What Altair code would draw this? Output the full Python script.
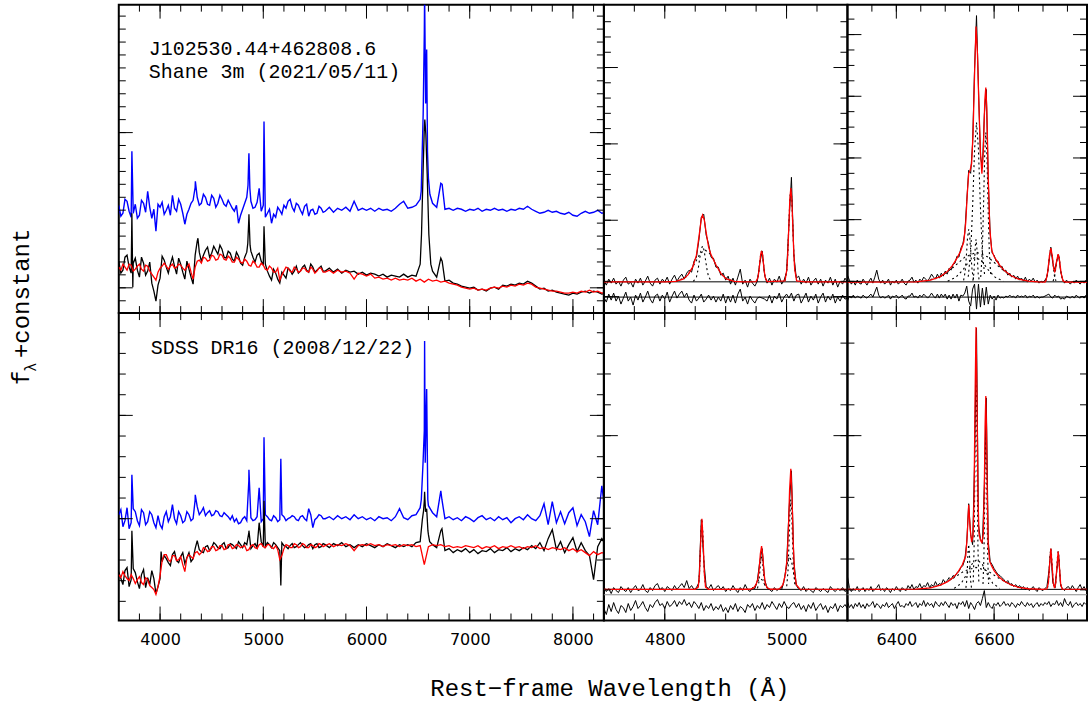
import altair as alt
import pandas as pd

# ====================== DATA ======================
# Left panels: flux every 40 A from 3600 A, extra samples at 3620..5580 (noisy blue end),
# plus emission / absorption line points (lambda, flux)
L_START, L_STEP = 3600, 40
MID_L_START = 3620

TL_BLUE = [
    10.8, 10.0, 11.2, 9.6, 10.9, 9.8, 11.0, 12.2, 9.5, 8.2,
    10.6, 9.9, 10.8, 11.8, 10.2, 10.9, 8.9, 10.4, 11.3, 11.6,
    11.0, 11.6, 10.8, 11.5, 11.0, 11.4, 10.7, 10.9, 10.2, 9.0,
    10.4, 11.6, 11.2, 10.6, 12.5, 10.8, 10.0, 9.0, 9.6, 10.3,
    10.8, 11.2, 10.6, 11.0, 10.3, 10.7, 9.7, 10.4, 10.0, 10.5,
    10.2, 10.6, 10.1, 10.5, 10.3, 10.6, 10.2, 11.2, 10.3, 10.5,
    10.3, 10.5, 10.2, 10.5, 10.3, 10.4, 10.2, 10.5, 10.9, 11.2,
    10.5, 10.6, 10.8, 11.4, 28.0, 13.5, 11.0, 10.6, 13.0, 10.4,
    10.5, 10.3, 10.5, 10.4, 10.2, 10.4, 10.3, 10.5, 10.2, 10.4,
    10.3, 10.5, 10.3, 10.4, 10.2, 10.4, 10.3, 10.5, 10.4, 10.7,
    10.4, 10.2, 10.0, 10.1, 10.3, 10.1, 10.2, 10.0, 9.9, 10.1,
    9.8, 9.7, 10.0, 10.2, 10.0, 10.1, 10.3, 10.0, 10.1,
]
TL_BLUE_MID = [
    9.7, 11.4, 10.2, 10.0, 9.5, 11.3, 10.1, 10.6, 10.4, 10.9,
    11.1, 10.3, 9.8, 10.5, 11.4, 10.0, 9.9, 11.0, 12.6, 10.8,
    11.9, 10.9, 11.8, 10.6, 11.8, 10.9, 11.3, 10.5, 10.8, 9.8,
    11.0, 15.8, 10.5, 11.1, 10.2, 9.6, 10.4, 9.9, 10.6, 9.9,
    10.5, 11.4, 10.2, 10.8, 9.9, 10.9, 10.3, 9.9, 10.7, 10.1,
]
TL_BLUE_PEAKS = [(3727, 16.2), (4342, 13.2), (4852, 12.8), (4861, 16.0), (4870, 12.5),
                 (5007, 19.2), (6530, 12.2), (6549, 19.9), (6563, 32.0), (6573, 21.0),
                 (6583, 26.4), (6591, 16.2), (6614, 11.9), (6733, 12.9)]

TL_BLACK = [
    5.2, 4.3, 5.8, 4.0, 5.5, 3.6, 5.0, 4.2, 3.0, 1.2,
    3.5, 5.3, 4.0, 5.6, 3.9, 4.9, 3.4, 4.4, 2.9, 7.2,
    5.2, 6.3, 5.6, 6.7, 5.9, 6.4, 5.5, 6.0, 5.2, 5.7,
    4.8, 6.1, 6.2, 5.1, 6.0, 4.8, 4.2, 3.3, 4.0, 3.0,
    3.8, 4.5, 3.9, 4.7, 4.2, 4.8, 4.1, 4.6, 4.3, 4.7,
    4.2, 4.5, 4.1, 4.4, 4.0, 4.3, 4.1, 4.2, 3.9, 4.1,
    3.8, 4.0, 3.9, 3.7, 3.9, 3.6, 3.8, 3.7, 3.6, 3.9,
    3.6, 3.8, 3.7, 4.9, 18.5, 9.4, 4.2, 3.6, 5.5, 3.2,
    3.3, 3.0, 2.9, 2.7, 2.6, 2.5, 2.6, 2.3, 2.4, 2.2,
    2.5, 2.6, 2.4, 2.8, 2.7, 2.9, 2.8, 3.0, 2.9, 3.2,
    3.0, 2.7, 2.4, 2.5, 2.2, 2.3, 2.1, 2.0, 1.9, 1.8,
    2.0, 1.9, 2.1, 2.2, 2.0, 2.2, 2.1, 1.9, 2.0,
]
TL_BLACK_MID = [
    4.0, 5.6, 4.6, 5.0, 4.3, 5.6, 3.8, 5.1, 2.2, 2.8,
    5.7, 4.6, 4.9, 4.7, 5.5, 4.1, 5.2, 3.6, 5.8, 6.1,
    5.8, 6.6, 6.0, 6.3, 6.8, 5.6, 6.2, 5.4, 6.1, 5.0,
    5.6, 9.5, 5.6, 5.8, 5.2, 4.9, 3.7, 4.4, 3.4, 4.1,
    3.5, 4.3, 4.2, 4.0, 4.6, 4.3, 4.9, 4.1, 4.5, 4.2,
]
TL_BLACK_PEAKS = [(3727, 10.0), (3736, 2.6), (4367, 7.5), (4850, 7.0), (4861, 9.9),
                  (4872, 6.8), (5007, 8.7), (6533, 7.9), (6549, 14.5), (6565, 19.4),
                  (6575, 17.9), (6588, 13.9), (6604, 7.9), (6623, 4.9), (6733, 5.2)]

TL_RED = [
    4.6, 4.9, 4.3, 4.8, 4.4, 4.9, 4.2, 4.7, 3.9, 3.3,
    4.5, 5.0, 4.4, 4.9, 4.6, 4.8, 4.3, 4.9, 3.4, 5.2,
    5.0, 5.5, 5.3, 5.7, 5.4, 5.8, 5.3, 5.5, 5.1, 5.4,
    5.0, 5.2, 4.7, 5.0, 4.6, 4.8, 4.3, 4.5, 4.1, 3.3,
    4.2, 4.5, 4.1, 4.4, 4.2, 4.5, 4.1, 4.4, 4.2, 4.5,
    4.1, 4.3, 4.0, 4.3, 4.1, 4.2, 4.0, 3.4, 4.0, 3.9,
    3.7, 3.9, 3.5, 3.6, 3.4, 3.5, 3.3, 3.5, 3.3, 3.4,
    3.3, 3.5, 3.2, 3.4, 3.1, 3.4, 3.2, 3.3, 3.1, 3.2,
    3.0, 2.9, 2.8, 2.6, 2.5, 2.4, 2.5, 2.3, 2.4, 2.3,
    2.5, 2.6, 2.5, 2.7, 2.6, 2.8, 2.7, 2.9, 2.8, 3.0,
    2.9, 2.6, 2.5, 2.4, 2.3, 2.2, 2.2, 2.1, 2.0, 2.0,
    2.1, 2.0, 2.2, 2.1, 2.3, 2.1, 2.2, 2.0, 2.1,
]
TL_RED_MID = [
    4.3, 4.6, 4.9, 4.2, 4.7, 4.4, 4.8, 4.2, 3.6, 4.1,
    4.7, 4.7, 4.7, 4.5, 4.9, 4.5, 4.6, 4.1, 4.6, 5.3,
    5.6, 5.2, 5.8, 5.3, 5.9, 5.4, 5.7, 5.1, 5.6, 5.1,
    5.4, 4.8, 5.2, 4.6, 5.0, 4.4, 4.7, 4.1, 4.5, 3.8,
    4.6, 4.2, 4.6, 4.1, 4.5, 4.2, 4.6, 4.0, 4.5, 4.1,
]

BL_BLUE = [
    10.6, 9.4, 11.3, 9.8, 10.9, 9.5, 10.8, 9.9, 10.6, 9.3,
    9.6, 10.4, 9.9, 11.6, 9.7, 10.5, 10.0, 10.6, 10.2, 11.4,
    10.9, 10.5, 11.0, 10.6, 10.9, 10.4, 10.6, 10.1, 9.9, 9.7,
    10.2, 10.0, 10.3, 10.1, 13.3, 10.2, 10.4, 10.0, 10.3, 10.1,
    10.4, 10.2, 10.5, 10.1, 10.4, 10.2, 11.2, 9.3, 10.3, 10.5,
    10.2, 10.4, 10.1, 10.5, 10.2, 10.4, 10.1, 10.6, 10.2, 10.4,
    10.1, 10.3, 10.0, 10.4, 10.2, 10.3, 10.0, 10.4, 11.2, 10.3,
    10.1, 10.5, 10.6, 11.3, 19.0, 11.5, 10.8, 10.4, 13.0, 10.2,
    10.4, 10.1, 10.3, 10.0, 10.4, 10.2, 9.9, 10.3, 10.5, 10.1,
    10.3, 10.0, 10.4, 10.1, 10.3, 9.8, 10.2, 10.4, 10.1, 10.6,
    10.2, 10.0, 10.5, 11.7, 9.6, 11.9, 9.8, 10.9, 9.7, 10.8,
    11.3, 9.5, 10.6, 9.9, 8.4, 11.0, 9.6, 13.5, 10.2,
]
BL_BLUE_MID = [
    11.1, 10.0, 9.2, 11.2, 10.0, 11.1, 9.6, 10.9, 9.8, 10.5,
    9.2, 10.9, 10.4, 10.2, 10.9, 9.8, 10.9, 10.0, 12.1, 10.6,
    11.3, 10.8, 10.5, 11.0, 10.5, 10.8, 10.4, 10.5, 10.2, 9.8,
    10.4, 14.0, 10.0, 10.4, 9.9, 10.6, 10.1, 10.5, 9.9, 10.6,
    10.0, 10.3, 10.4, 10.0, 10.5, 10.0, 10.6, 10.1, 10.6, 10.2,
]
BL_BLUE_PEAKS = [(3727, 14.6), (4341, 12.6), (4861, 15.1), (5007, 18.35), (5170, 16.2),
                 (6531, 12.1), (6547, 15.6), (6563, 28.0), (6569, 15.8), (6583, 23.2),
                 (6594, 12.1), (6731, 12.1)]

BL_BLACK = [
    4.9, 3.6, 5.3, 4.1, 4.8, 3.2, 5.1, 4.3, 5.0, 2.7,
    4.2, 6.5, 5.8, 6.6, 6.0, 6.4, 5.7, 6.8, 6.2, 8.0,
    6.9, 7.4, 7.0, 7.8, 7.3, 7.6, 7.2, 7.7, 7.4, 7.9,
    7.3, 7.6, 7.2, 7.7, 9.8, 7.4, 7.8, 7.3, 7.6, 7.0,
    7.5, 7.2, 7.7, 7.4, 7.8, 7.3, 7.6, 7.2, 7.7, 7.4,
    7.6, 7.3, 7.7, 7.5, 7.8, 7.4, 7.6, 7.3, 7.6, 7.4,
    7.7, 7.5, 7.3, 7.6, 7.4, 7.7, 7.5, 7.3, 7.6, 7.4,
    7.6, 7.4, 7.8, 7.9, 12.0, 8.6, 7.6, 7.3, 9.0, 7.0,
    7.2, 6.8, 7.1, 6.9, 7.2, 6.8, 7.1, 6.7, 7.0, 6.9,
    7.2, 6.8, 7.1, 7.0, 7.3, 6.9, 7.2, 7.0, 7.3, 7.1,
    7.5, 7.2, 7.8, 7.0, 8.2, 9.1, 7.1, 7.9, 6.8, 7.6,
    8.3, 6.9, 7.8, 7.0, 6.5, 4.1, 7.4, 8.2, 7.5,
]
BL_BLACK_MID = [
    4.2, 5.0, 3.4, 5.2, 3.9, 4.6, 3.3, 3.6, 4.2, 3.4,
    5.9, 6.2, 5.5, 6.9, 5.8, 6.8, 6.3, 5.9, 7.2, 7.1,
    6.8, 7.5, 7.3, 7.6, 7.2, 7.8, 7.3, 7.6, 7.2, 7.6,
    7.8, 8.8, 7.5, 7.3, 7.9, 7.4, 7.6, 7.8, 7.3, 7.8,
    7.4, 7.5, 7.3, 7.6, 7.5, 7.4, 7.7, 7.6, 7.3, 7.7,
]
BL_BLACK_PEAKS = [(3727, 9.0), (4010, 6.9), (4861, 9.0), (5007, 12.0), (5170, 3.5),
                  (6541, 10.1), (6553, 11.0), (6563, 12.9), (6572, 10.9), (6583, 11.2),
                  (6595, 9.0), (6612, 7.9), (6731, 9.2)]

BL_RED = [
    4.6, 4.9, 4.2, 4.6, 3.7, 4.4, 3.6, 4.1, 3.3, 2.6,
    4.5, 6.6, 6.1, 6.5, 6.0, 6.4, 4.9, 6.6, 6.2, 6.9,
    6.8, 7.2, 7.0, 7.4, 7.1, 7.5, 7.2, 7.6, 7.3, 7.5,
    7.4, 7.0, 7.5, 7.3, 7.6, 7.4, 7.6, 7.3, 7.5, 6.1,
    7.2, 7.5, 7.3, 7.6, 7.4, 7.6, 7.3, 7.5, 7.4, 7.6,
    7.5, 7.7, 7.4, 7.6, 7.5, 7.7, 7.5, 7.0, 7.5, 7.6,
    7.5, 7.7, 7.5, 7.6, 7.4, 7.6, 7.5, 7.6, 7.4, 7.6,
    7.5, 7.6, 7.4, 7.5, 5.6, 7.4, 7.6, 7.5, 7.6, 7.4,
    7.5, 7.3, 7.4, 7.3, 7.5, 7.4, 7.3, 7.5, 7.2, 7.4,
    7.3, 7.5, 7.2, 7.4, 7.3, 7.5, 7.3, 7.4, 7.2, 7.4,
    7.3, 7.5, 7.2, 7.3, 7.1, 7.3, 7.2, 7.1, 7.3, 7.0,
    7.2, 6.9, 7.1, 6.8, 6.5, 6.9, 6.6, 6.8, 6.7,
]
BL_RED_MID = [
    4.3, 4.5, 4.0, 4.2, 4.1, 3.8, 4.3, 3.5, 3.1, 3.4,
    6.0, 6.6, 5.9, 6.5, 6.1, 5.6, 6.3, 6.4, 6.8, 6.6,
    7.3, 6.9, 7.4, 7.0, 7.5, 7.1, 7.6, 7.2, 7.6, 7.3,
    7.5, 7.1, 7.6, 7.2, 7.7, 7.3, 7.6, 7.2, 7.1, 6.5,
    7.6, 7.3, 7.7, 7.3, 7.7, 7.3, 7.6, 7.3, 7.7, 7.4,
]

# Zoom panels: data & residuals sampled every 4 A
Z_STEP = 4
MID_START, RIGHT_START = 4700, 6300

TM_DATA = [
    3.3, 2.8, 3.4, 3.0, 3.5, 2.9, 3.2, 2.7, 3.3, 3.6,
    2.9, 3.1, 2.6, 3.4, 3.0, 3.5, 2.8, 3.2, 3.7, 3.0,
    2.7, 3.3, 3.5, 2.9, 3.4, 3.1, 3.6, 2.9, 3.4, 3.8,
    3.2, 3.6, 3.9, 3.4, 4.0, 4.3, 4.1, 5.2, 5.6, 7.3,
    9.6, 9.9, 7.8, 6.9, 5.6, 5.5, 4.6, 4.6, 3.8, 4.0,
    3.3, 3.7, 2.9, 3.5, 2.8, 3.6, 4.4, 2.9, 3.3, 2.6,
    3.4, 3.0, 2.7, 3.2, 5.0, 6.2, 3.8, 3.0, 3.5, 2.8,
    3.4, 3.1, 3.7, 2.9, 3.3, 4.1, 9.0, 13.6, 5.8, 3.5,
    3.7, 2.9, 3.4, 3.0, 3.6, 2.8, 3.2, 3.5, 2.9, 3.4,
    2.7, 3.3, 3.0, 3.6, 2.8, 3.4, 2.6, 3.2, 2.9, 3.5,
    3.1,
]
TM_RESID = [
    1.6, 1.1, 1.9, 1.3, 2.0, 1.2, 1.7, 0.9, 1.5, 2.1,
    1.2, 1.6, 0.8, 1.8, 1.3, 2.0, 1.1, 1.6, 2.2, 1.4,
    1.0, 1.7, 1.9, 1.2, 1.8, 1.4, 2.1, 1.1, 1.7, 2.2,
    1.5, 1.9, 2.2, 1.6, 2.0, 1.3, 1.0, 1.8, 1.2, 1.5,
    1.9, 1.1, 1.4, 1.8, 1.3, 1.7, 1.1, 1.6, 1.2, 1.9,
    1.0, 1.7, 1.1, 1.8, 1.0, 1.9, 2.4, 1.2, 1.6, 0.9,
    1.7, 1.3, 1.0, 1.5, 1.6, 1.5, 1.4, 1.2, 1.8, 1.0,
    1.7, 1.4, 2.0, 1.1, 1.6, 1.9, 1.5, 2.0, 1.2, 1.8,
    1.9, 1.0, 1.5, 2.0, 1.1, 1.7, 1.3, 1.9, 1.0, 1.6,
    2.0, 1.1, 1.7, 1.3, 1.9, 1.0, 1.6, 1.2, 1.8, 1.4,
    1.5,
]
TM_MODEL = [(4700, 3.13), (4800, 3.13), (4818, 3.17), (4830, 3.39), (4838, 3.82), (4846, 4.62),
            (4852, 5.8), (4857, 8.04), (4860, 9.43), (4862, 9.83), (4865, 9.32), (4868, 8.05),
            (4872, 6.6), (4876, 5.83), (4885, 4.71), (4893, 3.9), (4901, 3.42), (4914, 3.17),
            (4930, 3.13), (4950, 3.16), (4953, 3.55), (4954.5, 4.14), (4956, 5.01), (4957.5, 5.87),
            (4959, 6.23), (4960.5, 5.87), (4962, 5.01), (4963.5, 4.14), (4965, 3.55), (4968, 3.16),
            (4997.4, 3.23), (5000.6, 4.4), (5002.2, 6.18), (5003.8, 8.83), (5005.4, 11.43),
            (5007, 12.53), (5008.6, 11.43), (5010.2, 8.83), (5011.8, 6.18), (5013.4, 4.4),
            (5016.6, 3.23), (5030, 3.13), (5100, 3.13)]
TM_COMPS = [
    [(4818, 3.17), (4834, 3.56), (4842, 4.17), (4850, 5.07), (4858, 5.95), (4866, 6.33),
     (4874, 5.95), (4882, 5.07), (4890, 4.17), (4898, 3.56), (4914, 3.17)],
    [(4847, 3.17), (4852, 3.62), (4854.5, 4.30), (4857, 5.31), (4859.5, 6.31), (4862, 6.73),
     (4864.5, 6.31), (4867, 5.31), (4869.5, 4.30), (4872, 3.62), (4877, 3.17)],
    [(4950, 3.16), (4953, 3.55), (4954.5, 4.14), (4956, 5.01), (4957.5, 5.87), (4959, 6.23),
     (4960.5, 5.87), (4962, 5.01), (4963.5, 4.14), (4965, 3.55), (4968, 3.16)],
    [(4997.4, 3.23), (5000.6, 4.40), (5002.2, 6.18), (5003.8, 8.83), (5005.4, 11.43), (5007, 12.53),
     (5008.6, 11.43), (5010.2, 8.83), (5011.8, 6.18), (5013.4, 4.40), (5016.6, 3.23)],
]

TR_DATA = [
    3.8, 3.3, 2.9, 3.2, 2.8, 3.3, 3.0, 2.9, 3.4, 3.1,
    2.8, 3.2, 3.5, 3.0, 3.6, 4.3, 3.4, 3.0, 3.3, 2.9,
    3.1, 3.4, 2.8, 3.2, 3.0, 3.3, 2.9, 3.1, 3.4, 3.0,
    2.8, 3.2, 3.3, 3.6, 3.1, 3.3, 3.0, 3.4, 3.2, 3.6,
    3.4, 3.2, 3.5, 3.9, 3.6, 3.4, 3.9, 3.5, 4.0, 3.7,
    4.2, 3.9, 4.5, 4.3, 4.9, 5.0, 5.7, 5.6, 6.5, 6.9,
    8.0, 11.2, 14.3, 14.0, 17.0, 24.5, 29.8, 22.6, 15.8, 14.5,
    19.9, 22.4, 13.4, 7.9, 6.0, 5.8, 5.2, 5.2, 4.6, 4.7,
    4.2, 4.3, 3.8, 4.0, 3.6, 3.8, 3.4, 3.7, 3.3, 3.5,
    3.2, 3.6, 3.1, 3.4, 3.2, 3.5, 3.1, 3.3, 3.0, 3.2,
    3.1, 3.3, 3.6, 5.0, 6.6, 5.0, 4.3, 5.2, 5.8, 4.2,
    3.4, 3.0, 3.3, 3.1, 2.9, 3.2, 3.0, 3.3, 3.1, 2.9,
    3.2, 3.0, 3.3, 3.1,
]
TR_RESID = [
    1.2, 1.7, 1.5, 1.8, 1.5, 1.7, 1.6, 1.5, 1.8, 1.6,
    1.5, 1.7, 1.9, 1.6, 2.1, 2.6, 1.8, 1.5, 1.7, 1.5,
    1.6, 1.8, 1.4, 1.7, 1.6, 1.8, 1.5, 1.6, 1.8, 1.5,
    1.4, 1.7, 1.7, 2.0, 1.6, 1.7, 1.5, 1.8, 1.6, 1.9,
    1.7, 1.5, 1.7, 2.0, 1.7, 1.5, 1.9, 1.5, 1.9, 1.6,
    1.9, 1.4, 1.8, 1.4, 1.9, 1.5, 1.9, 1.2, 1.8, 1.7,
    2.0, 2.7, 1.2, 0.7, 2.4, 2.9, 0.4, 2.9, 0.6, 2.5,
    0.8, 2.6, 0.9, 1.8, 1.4, 1.7, 1.3, 1.8, 1.5, 1.6,
    1.5, 1.7, 1.6, 1.8, 1.6, 1.7, 1.5, 1.8, 1.6, 1.7,
    1.6, 1.8, 1.5, 1.7, 1.6, 1.8, 1.5, 1.7, 1.5, 1.6,
    1.6, 1.7, 1.8, 1.9, 1.6, 1.5, 1.8, 1.6, 1.7, 1.4,
    1.5, 1.4, 1.7, 1.6, 1.5, 1.7, 1.5, 1.8, 1.6, 1.5,
    1.7, 1.5, 1.8, 1.6,
]
TR_MODEL = [(6300, 3.1), (6440, 3.12), (6470, 3.29), (6490, 3.65), (6505, 4.2), (6515, 4.78),
            (6525, 5.58), (6532, 6.27), (6538, 7.14), (6542, 9.1), (6545, 11.85), (6548, 14.0),
            (6551, 14.31), (6554, 14.96), (6557, 18.1), (6560, 23.92), (6563, 28.71), (6566, 25.91),
            (6569, 20.63), (6572, 16.13), (6575, 13.95), (6578, 16.28), (6581, 21.32), (6583, 22.59),
            (6585, 20.49), (6588, 13.71), (6591, 8.57), (6595, 6.3), (6600, 5.66), (6610, 4.88),
            (6620, 4.3), (6635, 3.74), (6650, 3.4), (6670, 3.19), (6690, 3.12), (6704, 3.1),
            (6706, 3.25), (6710, 4.2), (6713, 5.67), (6716, 6.5), (6719, 5.7), (6722, 4.42),
            (6724, 4.16), (6726, 4.53), (6728, 5.25), (6731, 5.9), (6734, 5.21), (6737, 4.01),
            (6741, 3.22), (6746, 3.1), (6800, 3.1)]
TR_COMPS = [
    [(6460, 3.2), (6492, 3.69), (6516, 4.56), (6540, 5.6), (6564, 6.1), (6588, 5.6), (6612, 4.56), (6636, 3.69), (6668, 3.2)],
    [(6505, 3.19), (6522, 3.6), (6536, 4.32), (6549, 5.19), (6562, 5.6), (6575, 5.19), (6588, 4.32), (6602, 3.6), (6619, 3.19)],
    [(6547.1, 3.64), (6552.3, 6.27), (6556.2, 10.89), (6560.1, 16.46), (6564, 19.1), (6567.9, 16.46), (6571.8, 10.89), (6575.7, 6.27), (6580.9, 3.64)],
    [(6556.5, 3.25), (6558.5, 3.95), (6560, 5.19), (6561.5, 6.69), (6563, 7.4), (6564.5, 6.69), (6566, 5.19), (6567.5, 3.95), (6569.5, 3.25)],
    [(6572.6, 3.61), (6575.8, 6.07), (6578.2, 10.41), (6580.6, 15.63), (6583, 18.1), (6585.4, 15.63), (6587.8, 10.41), (6590.2, 6.07), (6593.4, 3.61)],
    [(6537.6, 3.28), (6540.8, 4.15), (6543.2, 5.68), (6545.6, 7.53), (6548, 8.4), (6550.4, 7.53), (6552.8, 5.68), (6555.2, 4.15), (6558.4, 3.28)],
    [(6705.6, 3.22), (6708.8, 3.77), (6711.2, 4.76), (6713.6, 5.94), (6716, 6.5), (6718.4, 5.94), (6720.8, 4.76), (6723.2, 3.77), (6726.4, 3.22)],
    [(6720.6, 3.2), (6723.8, 3.65), (6726.2, 4.46), (6728.6, 5.44), (6731, 5.9), (6733.4, 5.44), (6735.8, 4.46), (6738.2, 3.65), (6741.4, 3.2)],
]

BM_DATA = [
    3.4, 2.9, 3.2, 2.7, 3.3, 3.0, 2.8, 3.4, 3.1, 2.9,
    3.3, 2.8, 3.2, 3.5, 3.0, 3.1, 3.6, 3.0, 2.8, 3.3,
    3.0, 3.5, 3.7, 3.1, 3.3, 2.9, 3.4, 3.2, 3.0, 3.5,
    3.1, 3.4, 3.7, 3.3, 4.0, 3.2, 3.5, 3.1, 3.3, 3.8,
    10.1, 6.1, 3.4, 3.2, 3.6, 3.0, 3.3, 3.5, 3.1, 3.4,
    2.9, 3.2, 3.0, 3.5, 3.1, 2.8, 3.3, 3.0, 3.6, 3.1,
    2.9, 3.3, 3.2, 4.0, 5.9, 7.2, 4.1, 3.3, 3.1, 2.9,
    3.3, 3.0, 3.2, 3.1, 4.0, 5.6, 11.0, 15.0, 6.0, 3.5,
    3.2, 3.0, 3.4, 2.9, 3.2, 3.0, 2.8, 3.3, 3.1, 2.9,
    3.2, 3.0, 2.8, 3.4, 3.1, 2.9, 3.2, 3.0, 3.3, 2.9,
    3.1,
]
BM_RESID = [
    1.2, 0.6, 1.6, 0.9, 1.8, 1.1, 0.7, 1.5, 1.3, 0.8,
    1.7, 1.0, 1.4, 2.0, 1.2, 1.5, 1.9, 1.3, 0.9, 1.6,
    1.3, 1.8, 2.1, 1.5, 1.7, 1.2, 1.9, 1.4, 1.6, 2.0,
    1.4, 1.9, 1.6, 2.1, 1.5, 1.8, 1.3, 1.9, 1.6, 1.2,
    1.8, 1.0, 1.5, 1.2, 1.7, 1.0, 1.4, 1.1, 1.6, 0.9,
    1.3, 0.8, 1.5, 1.1, 1.7, 0.9, 1.4, 1.2, 0.8, 1.6,
    1.3, 1.7, 1.0, 1.5, 1.2, 1.8, 1.1, 1.6, 1.3, 1.9,
    1.5, 1.1, 1.7, 1.3, 1.9, 1.4, 1.2, 1.6, 1.8, 1.3,
    1.7, 1.1, 1.5, 0.9, 1.6, 1.2, 1.8, 1.0, 1.4, 1.7,
    1.1, 1.5, 0.8, 1.4, 1.2, 1.7, 0.9, 1.5, 1.3, 1.6,
    1.2,
]
BM_MODEL = [(4700, 3.12), (4850, 3.12), (4855, 3.35), (4857, 4.68), (4859, 7.96), (4861, 10.18),
            (4863, 7.96), (4865, 4.68), (4867, 3.35), (4872, 3.12), (4940, 3.13), (4946, 3.27),
            (4950, 3.62), (4953, 4.19), (4955, 5.16), (4957, 6.67), (4959, 7.45), (4961, 6.41),
            (4963, 4.74), (4965, 3.73), (4968, 3.28), (4974, 3.13), (4988, 3.15), (4994, 3.57),
            (4998, 4.61), (5001, 6.28), (5003, 8.97), (5005, 13.12), (5007, 15.21), (5009, 12.35),
            (5011, 7.7), (5013, 4.9), (5016, 3.59), (5022, 3.15), (5100, 3.12)]
BM_COMPS = [
    [(4855.02, 3.36), (4856.86, 4.52), (4858.24, 6.56), (4859.62, 9.02), (4861, 10.18), (4862.38, 9.02), (4863.76, 6.56), (4865.14, 4.52), (4866.98, 3.36)],
    [(4952.24, 3.23), (4954.32, 3.77), (4955.88, 4.73), (4957.44, 5.88), (4959, 6.42), (4960.56, 5.88), (4962.12, 4.73), (4963.68, 3.77), (4965.76, 3.23)],
    [(4942.7, 3.16), (4947.1, 3.34), (4950.4, 3.66), (4953.7, 4.04), (4957, 4.22), (4960.3, 4.04), (4963.6, 3.66), (4966.9, 3.34), (4971.3, 3.16)],
    [(5000.24, 3.43), (5002.32, 4.9), (5003.88, 7.5), (5005.44, 10.64), (5007, 12.12), (5008.56, 10.64), (5010.12, 7.5), (5011.68, 4.9), (5013.76, 3.43)],
    [(4990.7, 3.23), (4995.1, 3.77), (4998.4, 4.73), (5001.7, 5.88), (5005, 6.42), (5008.3, 5.88), (5011.6, 4.73), (5014.9, 3.77), (5019.3, 3.23)],
]

BR_DATA = [
    4.4, 3.3, 2.9, 3.2, 3.0, 3.4, 2.9, 3.1, 3.3, 2.9,
    3.2, 3.0, 3.4, 2.9, 3.1, 3.3, 3.6, 3.0, 3.2, 2.9,
    3.3, 3.1, 2.8, 3.2, 3.0, 3.4, 3.1, 2.9, 3.3, 3.1,
    3.0, 3.5, 3.2, 3.6, 3.1, 3.4, 3.3, 3.7, 3.2, 3.5,
    3.4, 3.8, 3.3, 3.6, 3.4, 3.9, 3.5, 3.7, 3.6, 4.1,
    3.8, 4.0, 4.3, 4.1, 4.5, 4.4, 4.8, 4.9, 5.3, 5.5,
    6.1, 7.8, 11.7, 8.6, 7.6, 15.8, 29.3, 9.6, 8.2, 7.7,
    13.6, 22.3, 8.0, 5.9, 5.6, 5.2, 4.9, 4.6, 4.5, 4.3,
    4.1, 3.8, 4.0, 3.6, 3.7, 3.4, 3.6, 3.3, 3.5, 3.2,
    3.4, 3.1, 3.3, 3.0, 3.2, 3.4, 3.1, 2.9, 3.3, 3.1,
    3.0, 3.2, 3.4, 4.9, 7.1, 3.8, 3.3, 4.9, 6.6, 3.5,
    3.2, 3.0, 3.3, 3.4, 3.1, 3.5, 3.2, 2.9, 3.3, 3.6,
    3.1, 3.4, 3.0, 3.3,
]
BR_RESID = [
    1.9, 1.3, 1.6, 1.2, 1.7, 1.4, 1.8, 1.3, 1.6, 1.2,
    1.7, 1.4, 1.6, 1.9, 1.3, 1.7, 1.5, 1.2, 1.6, 1.4,
    1.8, 1.3, 1.5, 1.7, 1.2, 1.6, 1.9, 1.4, 1.5, 1.3,
    1.7, 1.5, 1.9, 1.4, 1.6, 1.8, 1.3, 1.7, 1.5, 2.0,
    1.4, 1.8, 1.5, 1.7, 1.3, 1.9, 1.6, 1.4, 1.8, 1.5,
    1.9, 1.6, 1.3, 1.8, 1.5, 1.7, 1.2, 1.8, 1.6, 1.9,
    1.4, 2.0, 1.2, 1.8, 1.5, 1.1, 1.7, 1.9, 1.5, 2.2,
    3.0, 1.3, 1.8, 1.4, 1.2, 1.7, 1.5, 1.8, 1.4, 1.6,
    1.9, 1.5, 1.7, 1.4, 1.8, 1.6, 1.3, 1.7, 1.5, 1.9,
    1.6, 1.4, 1.8, 1.5, 1.7, 1.3, 1.6, 1.8, 1.4, 1.7,
    1.5, 1.8, 1.6, 1.9, 1.4, 1.7, 1.6, 2.0, 1.5, 1.8,
    1.4, 2.2, 1.7, 1.5, 1.9, 1.3, 1.6, 1.8, 1.5, 1.7,
    1.4, 1.8, 1.6, 1.5,
]
BR_MODEL = [(6300, 3.12), (6440, 3.14), (6470, 3.27), (6490, 3.54), (6505, 3.9), (6515, 4.25),
            (6525, 4.77), (6535, 5.59), (6542, 6.48), (6545, 8.51), (6548, 11.59), (6551, 9.22),
            (6554, 7.86), (6557, 8.53), (6559, 12.2), (6561, 22.2), (6563, 29.4), (6565, 22.27),
            (6567, 12.34), (6569, 8.74), (6572, 8.04), (6575, 7.81), (6578, 8.66), (6580, 13.41),
            (6581.5, 19.44), (6583, 22.48), (6584.5, 19.07), (6586, 12.67), (6588, 7.44), (6591, 5.92),
            (6595, 5.47), (6600, 5.0), (6610, 4.35), (6620, 3.95), (6635, 3.56), (6650, 3.33),
            (6670, 3.18), (6700, 3.12), (6708, 3.16), (6711, 3.76), (6713, 5.23), (6716, 7.22),
            (6719, 5.23), (6721, 3.76), (6723.5, 3.24), (6726, 3.72), (6728, 5.07), (6731, 6.92),
            (6734, 5.07), (6736, 3.72), (6739, 3.15), (6800, 3.12)]
BR_COMPS = [
    [(6459, 3.19), (6491, 3.56), (6515, 4.19), (6539, 4.96), (6563, 5.32), (6587, 4.96), (6611, 4.19), (6635, 3.56), (6667, 3.19)],
    [(6518.2, 3.22), (6532.6, 3.71), (6543.4, 4.58), (6554.2, 5.63), (6565, 6.12), (6575.8, 5.63), (6586.6, 4.58), (6597.4, 3.71), (6611.8, 3.22)],
    [(6557.28, 3.84), (6559.04, 7.3), (6560.36, 13.4), (6561.68, 20.74), (6563, 24.22), (6564.32, 20.74), (6565.64, 13.4), (6566.96, 7.3), (6568.72, 3.84)],
    [(6577.28, 3.65), (6579.04, 6.21), (6580.36, 10.72), (6581.68, 16.15), (6583, 18.72), (6584.32, 16.15), (6585.64, 10.72), (6586.96, 6.21), (6588.72, 3.65)],
    [(6542.28, 3.27), (6544.04, 4.01), (6545.36, 5.31), (6546.68, 6.88), (6548, 7.62), (6549.32, 6.88), (6550.64, 5.31), (6551.96, 4.01), (6553.72, 3.27)],
    [(6709.24, 3.26), (6711.32, 3.93), (6712.88, 5.12), (6714.44, 6.54), (6716, 7.22), (6717.56, 6.54), (6719.12, 5.12), (6720.68, 3.93), (6722.76, 3.26)],
    [(6724.24, 3.25), (6726.32, 3.87), (6727.88, 4.97), (6729.44, 6.29), (6731, 6.92), (6732.56, 6.29), (6734.12, 4.97), (6735.68, 3.87), (6737.76, 3.25)],
]

# continuum / residual reference levels in the zoom panels
TOP_LEVELS = [3.13, 1.6]
BOT_LEVELS = [3.12, 2.58]

# axis tick positions
LEFT_X_MINOR = [3800, 4000, 4200, 4400, 4600, 4800, 5000, 5200, 5400, 5600, 5800, 6000, 6200,
                6400, 6600, 6800, 7000, 7200, 7400, 7600, 7800, 8000, 8200]
LEFT_X_MAJOR = [4000, 5000, 6000, 7000, 8000]
MID_X_MINOR = [4750, 4800, 4850, 4900, 4950, 5000, 5050]
MID_X_MAJOR = [4800, 5000]
RIGHT_X_MINOR = [6350, 6400, 6450, 6500, 6550, 6600, 6650, 6700, 6750]
RIGHT_X_MAJOR = [6400, 6600]

TL_Y_MINOR = [1.23, 2.53, 3.83, 5.12, 6.42, 7.71, 9.01, 10.31, 11.6, 12.9, 14.19, 15.49, 16.79,
              18.08, 19.38, 20.67, 21.97, 23.27, 24.56, 25.86, 27.15, 28.45, 29.75]
TL_Y_MAJOR = [2.53, 18.08]
BL_Y_MINOR = [1.92, 3.99, 6.06, 8.13, 10.2, 12.27, 14.34, 16.41, 18.48, 20.55, 22.62, 24.69, 26.76, 28.83]
BL_Y_MAJOR = [10.2, 20.55]
TM_Y_MINOR = [1.65, 3.18, 4.71, 6.24, 7.77, 9.3, 10.83, 12.36, 13.89, 15.42, 16.95, 18.48, 20.01,
              21.54, 23.07, 24.6, 26.13, 27.66, 29.19]
TM_Y_MAJOR = [1.65, 9.3, 16.95, 24.6]
TR_Y_MINOR = [1.64, 3.18, 4.73, 6.27, 7.82, 9.36, 10.91, 12.45, 14.0, 15.54, 17.09, 18.63, 20.18,
              21.72, 23.27, 24.81, 26.36, 27.9, 29.45]
TR_Y_MAJOR = [3.18, 9.36, 15.54, 21.72, 27.9]
B_ZOOM_Y_MINOR = [3.07, 6.16, 9.25, 12.34, 15.43, 18.52, 21.61, 24.7, 27.79]
B_ZOOM_Y_MAJOR = [18.52]

# ====================== helpers ======================
BLUE, RED, BLACK, GRAY = "#0000ff", "#ff0000", "#000000", "#8c8c8c"
MAJ, MIN = 14, 7
MONO = "Liberation Mono"


def left_curve(vals, mids=(), peaks=()):
    pts = {L_START + L_STEP * i: v for i, v in enumerate(vals)}
    for i, v in enumerate(mids):
        pts[MID_L_START + L_STEP * i] = v
    for lam, v in peaks:
        pts[lam] = v
    lams = sorted(pts)
    return pd.DataFrame({"lam": lams, "flux": [pts[l] for l in lams]})


def grid_curve(start, vals):
    return pd.DataFrame({"lam": [start + Z_STEP * i for i in range(len(vals))], "flux": vals})


def pairs(p):
    return pd.DataFrame({"lam": [a for a, _ in p], "flux": [b for _, b in p]})


def comps_df(comps):
    rows = []
    for j, c in enumerate(comps):
        for lam, f in c:
            rows.append({"lam": lam, "flux": f, "comp": j})
    return pd.DataFrame(rows)


def text_layer(txt, px, py, size, align="left", angle=0, baseline="middle"):
    kw = dict(align=align, baseline=baseline, font=MONO, fontSize=size, color=BLACK)
    if angle:
        kw["angle"] = angle
    return (alt.Chart(pd.DataFrame({"t": [txt]})).mark_text(**kw)
            .encode(x=alt.value(px), y=alt.value(py), text="t:N"))


def panel(width, height, xdom, ydom, curves, xminor, xmajor, yminor, ymajor,
          xlabels=None, levels=(), comps=None, extra=()):
    xs = alt.Scale(domain=xdom, nice=False, zero=False)
    ys = alt.Scale(domain=ydom, nice=False, zero=False)
    if xlabels is None:
        xax = None
    else:
        xax = alt.Axis(values=xlabels, ticks=False, tickSize=0, domain=False, grid=False,
                       title=None, labelFont="DejaVu Sans", labelFontSize=16,
                       labelColor="black", labelPadding=11, labelFlush=False, format="d")

    def X(f):
        return alt.X(f, type="quantitative", scale=xs, axis=xax, title=None)

    def Y(f):
        return alt.Y(f, type="quantitative", scale=ys, axis=None, title=None)

    layers = []
    for lev, col in levels:
        layers.append(alt.Chart(pd.DataFrame({"b": [lev]})).mark_rule(color=col, strokeWidth=1)
                      .encode(y=Y("b"), x=alt.value(0), x2=alt.value(width)))
    if comps is not None:
        layers.append(alt.Chart(comps_df(comps)).mark_line(color=BLACK, strokeWidth=1.1,
                                                           strokeDash=[2, 3], clip=True)
                      .encode(x=X("lam"), y=Y("flux"), detail="comp:N"))
    for df, col, sw in curves:
        layers.append(alt.Chart(df).mark_line(color=col, strokeWidth=sw, clip=True)
                      .encode(x=X("lam"), y=Y("flux")))
    # ticks (inward, on all four sides)
    for vals, ln in ((xminor, MIN), (xmajor, MAJ)):
        d = pd.DataFrame({"t": vals})
        layers.append(alt.Chart(d).mark_rule(color=BLACK, strokeWidth=1)
                      .encode(x=X("t"), y=alt.value(height), y2=alt.value(height - ln)))
        layers.append(alt.Chart(d).mark_rule(color=BLACK, strokeWidth=1)
                      .encode(x=X("t"), y=alt.value(0), y2=alt.value(ln)))
    for vals, ln in ((yminor, MIN), (ymajor, MAJ)):
        d = pd.DataFrame({"t": vals})
        layers.append(alt.Chart(d).mark_rule(color=BLACK, strokeWidth=1)
                      .encode(y=Y("t"), x=alt.value(0), x2=alt.value(ln)))
        layers.append(alt.Chart(d).mark_rule(color=BLACK, strokeWidth=1)
                      .encode(y=Y("t"), x=alt.value(width), x2=alt.value(width - ln)))
    layers.extend(extra)
    return alt.layer(*layers).properties(width=width, height=height)


W_L, W_M, W_R = 486, 244, 240
H_T, H_B = 309, 308
TOP_Y = [0, 30.9]
BOT_Y = [0, 30.8]

# invisible marker fixing the left edge of the whole figure 118 px left of the panels
left_edge = (alt.Chart(pd.DataFrame({"a": [0]}))
             .mark_rule(strokeOpacity=0, strokeWidth=1, color="white")
             .encode(x=alt.value(-117.5), x2=alt.value(-117.5), y=alt.value(0), y2=alt.value(2)))

tl = panel(W_L, H_T, [3600, 8300], TOP_Y,
           [(left_curve(TL_BLUE, TL_BLUE_MID, TL_BLUE_PEAKS), BLUE, 1.4),
            (left_curve(TL_BLACK, TL_BLACK_MID, TL_BLACK_PEAKS), BLACK, 1.3),
            (left_curve(TL_RED, TL_RED_MID), RED, 1.3)],
           LEFT_X_MINOR, LEFT_X_MAJOR, TL_Y_MINOR, TL_Y_MAJOR,
           extra=[text_layer("J102530.44+462808.6", 30, 44, 20),
                  text_layer("Shane 3m (2021/05/11)", 30, 67, 20),
                  text_layer("f", -90, 381, 24, angle=270, baseline="alphabetic"),
                  text_layer("\u03bb", -83, 368, 16, angle=270, baseline="alphabetic"),
                  text_layer("+constant", -90, 354, 24, angle=270, baseline="alphabetic"),
                  left_edge])

tm = panel(W_M, H_T, [4700, 5100], TOP_Y,
           [(grid_curve(MID_START, TM_DATA), BLACK, 1.0),
            (grid_curve(MID_START, TM_RESID), BLACK, 1.0),
            (pairs(TM_MODEL), RED, 1.3)],
           MID_X_MINOR, MID_X_MAJOR, TM_Y_MINOR, TM_Y_MAJOR,
           levels=[(TOP_LEVELS[0], BLACK), (TOP_LEVELS[1], BLACK)], comps=TM_COMPS)

tr = panel(W_R, H_T, [6300, 6790], TOP_Y,
           [(grid_curve(RIGHT_START, TR_DATA), BLACK, 1.0),
            (grid_curve(RIGHT_START, TR_RESID), BLACK, 1.0),
            (pairs(TR_MODEL), RED, 1.3)],
           RIGHT_X_MINOR, RIGHT_X_MAJOR, TR_Y_MINOR, TR_Y_MAJOR,
           levels=[(TOP_LEVELS[0], BLACK), (TOP_LEVELS[1], BLACK)], comps=TR_COMPS)

bl = panel(W_L, H_B, [3600, 8300], BOT_Y,
           [(left_curve(BL_BLUE, BL_BLUE_MID, BL_BLUE_PEAKS), BLUE, 1.4),
            (left_curve(BL_BLACK, BL_BLACK_MID, BL_BLACK_PEAKS), BLACK, 1.3),
            (left_curve(BL_RED, BL_RED_MID), RED, 1.3)],
           LEFT_X_MINOR, LEFT_X_MAJOR, BL_Y_MINOR, BL_Y_MAJOR,
           xlabels=LEFT_X_MAJOR,
           extra=[text_layer("SDSS DR16 (2008/12/22)", 32, 35, 20),
                  text_layer("Rest\u2212frame Wavelength (\u00c5)", 492, 377, 24, align="center")])

bm = panel(W_M, H_B, [4700, 5100], BOT_Y,
           [(grid_curve(MID_START, BM_DATA), BLACK, 1.0),
            (grid_curve(MID_START, BM_RESID), BLACK, 1.0),
            (pairs(BM_MODEL), RED, 1.3)],
           MID_X_MINOR, MID_X_MAJOR, B_ZOOM_Y_MINOR, B_ZOOM_Y_MAJOR,
           xlabels=MID_X_MAJOR,
           levels=[(BOT_LEVELS[0], BLACK), (BOT_LEVELS[1], GRAY)], comps=BM_COMPS)

br = panel(W_R, H_B, [6300, 6790], BOT_Y,
           [(grid_curve(RIGHT_START, BR_DATA), BLACK, 1.0),
            (grid_curve(RIGHT_START, BR_RESID), BLACK, 1.0),
            (pairs(BR_MODEL), RED, 1.3)],
           RIGHT_X_MINOR, RIGHT_X_MAJOR, B_ZOOM_Y_MINOR, B_ZOOM_Y_MAJOR,
           xlabels=RIGHT_X_MAJOR,
           levels=[(BOT_LEVELS[0], BLACK), (BOT_LEVELS[1], GRAY)], comps=BR_COMPS)

chart = (alt.concat(tl, tm, tr, bl, bm, br, columns=3, spacing=0, bounds="flush")
         .properties(padding={"left": 0, "top": 2, "right": 0, "bottom": 2}, background="white")
         .configure_view(stroke="black", strokeWidth=2)
         .configure_axis(grid=False))

chart.save("out.html", embed_options={"renderer": "svg", "actions": False})
